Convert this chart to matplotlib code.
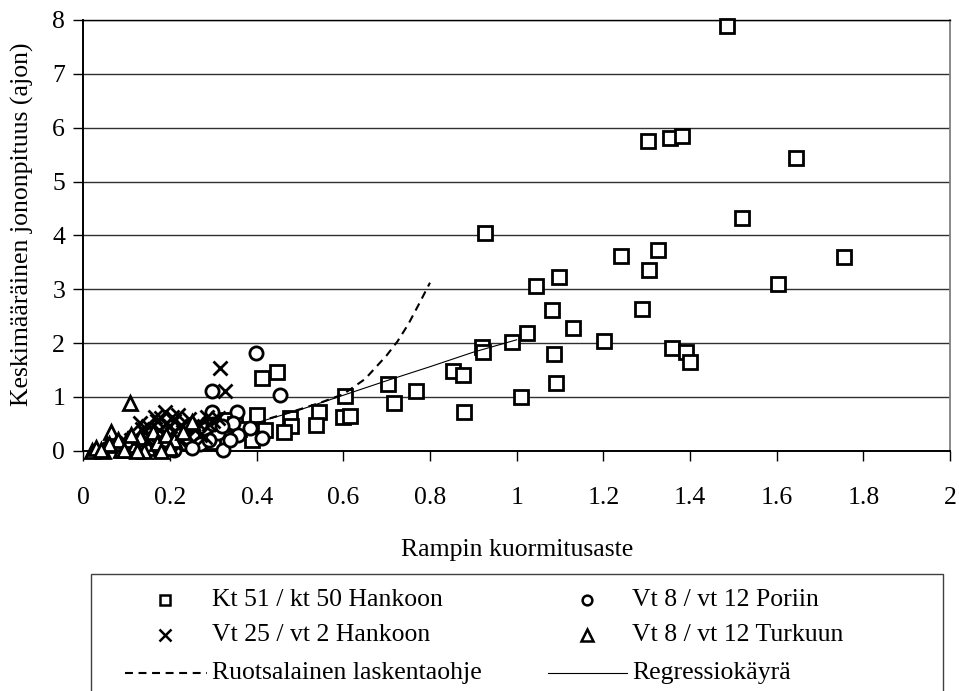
import matplotlib
matplotlib.use('Agg')
import matplotlib.pyplot as plt
from matplotlib.lines import Line2D
from matplotlib.patches import Rectangle

plt.rcParams['font.family'] = ['Liberation Serif', 'DejaVu Serif']

# Kt 51 / kt 50 Hankoon (squares)
sq_x = [1.485, 1.302, 1.354, 1.382, 1.644, 1.519, 1.241, 1.327, 1.305, 1.756, 1.602,
        1.044, 1.098, 1.082, 1.290, 1.025, 1.129, 0.990, 1.202, 1.086, 1.359, 1.391,
        1.400, 1.090, 1.009, 0.927, 0.919, 0.923, 0.854, 0.876, 0.879, 0.702, 0.767,
        0.716, 0.604, 0.600, 0.615, 0.544, 0.537, 0.477, 0.479, 0.462, 0.412, 0.446,
        0.400, 0.396, 0.419, 0.390, 0.331, 0.300, 0.350, 0.360]
sq_y = [7.88, 5.76, 5.81, 5.84, 5.43, 4.32, 3.62, 3.73, 3.36, 3.59, 3.09,
        3.05, 3.23, 2.62, 2.63, 2.18, 2.27, 2.01, 2.04, 1.79, 1.90, 1.84,
        1.65, 1.25, 0.99, 4.05, 1.93, 1.84, 1.48, 1.41, 0.72, 1.24, 1.11,
        0.89, 1.02, 0.62, 0.645, 0.72, 0.48, 0.60, 0.46, 0.35, 1.35, 1.47,
        0.66, 0.26, 0.38, 0.20, 0.57, 0.17, 0.50, 0.40]

# Vt 8 / vt 12 Poriin (circles)
ci_x = [0.398, 0.454, 0.296, 0.296, 0.354, 0.346, 0.385, 0.357, 0.311, 0.412, 0.323,
        0.339, 0.258, 0.215, 0.177, 0.210, 0.180, 0.200, 0.230, 0.240, 0.260, 0.270,
        0.280, 0.300, 0.220, 0.190, 0.250, 0.320, 0.160, 0.290]
ci_y = [1.81, 1.03, 1.10, 0.72, 0.72, 0.51, 0.42, 0.29, 0.33, 0.23, 0.01,
        0.20, 0.17, 0.10, 0.04, 0.01, 0.05, 0.12, 0.15, 0.25, 0.30, 0.12,
        0.40, 0.50, 0.30, 0.20, 0.05, 0.45, 0.10, 0.20]

# Vt 25 / vt 2 Hankoon (crosses)
xx_x = [0.315, 0.327, 0.100, 0.120, 0.130, 0.140, 0.150, 0.165, 0.170, 0.180, 0.188,
        0.190, 0.200, 0.210, 0.218, 0.230, 0.240, 0.250, 0.260, 0.270, 0.285, 0.290,
        0.300, 0.310, 0.110, 0.150, 0.200, 0.120, 0.170, 0.220, 0.280, 0.090, 0.135,
        0.155, 0.175, 0.195, 0.205, 0.225, 0.245, 0.265]
xx_y = [1.54, 1.10, 0.15, 0.25, 0.51, 0.35, 0.45, 0.63, 0.55, 0.60, 0.72,
        0.50, 0.45, 0.55, 0.66, 0.35, 0.30, 0.45, 0.40, 0.30, 0.63, 0.50,
        0.55, 0.60, 0.20, 0.20, 0.15, 0.08, 0.10, 0.20, 0.25, 0.05, 0.40,
        0.30, 0.38, 0.28, 0.62, 0.48, 0.58, 0.52]

# Vt 8 / vt 12 Turkuun (triangles)
tr_x = [0.108, 0.019, 0.045, 0.065, 0.088, 0.149, 0.161, 0.250, 0.030, 0.055, 0.075,
        0.100, 0.120, 0.130, 0.170, 0.190, 0.210, 0.230, 0.140, 0.080, 0.110, 0.060,
        0.200, 0.040, 0.095, 0.125, 0.180]
tr_y = [0.88, 0.00, 0.00, 0.35, 0.01, 0.05, 0.35, 0.54, 0.05, 0.10, 0.15,
        0.20, 0.10, 0.25, 0.15, 0.30, 0.20, 0.35, 0.00, 0.20, 0.30, 0.12,
        0.05, 0.02, 0.02, 0.00, 0.00]

# Ruotsalainen laskentaohje (dotted curve)
ruot_x = [0.43, 0.50, 0.55, 0.60, 0.65, 0.675, 0.70, 0.725, 0.75, 0.775, 0.80]
ruot_y = [0.60, 0.77, 0.90, 1.05, 1.33, 1.55, 1.77, 2.03, 2.35, 2.73, 3.12]

# Regressiokayra (solid curve)
regr_x = [0.40, 0.50, 0.60, 0.70, 0.80, 0.90, 1.00]
regr_y = [0.52, 0.76, 1.03, 1.30, 1.56, 1.83, 2.06]

xticks = [0, 0.2, 0.4, 0.6, 0.8, 1, 1.2, 1.4, 1.6, 1.8, 2]
xtick_labels = ['0', '0.2', '0.4', '0.6', '0.8', '1', '1.2', '1.4', '1.6', '1.8', '2']
yticks = [0, 1, 2, 3, 4, 5, 6, 7, 8]

labels = ['Kt 51 / kt 50 Hankoon', 'Vt 8 / vt 12 Poriin',
          'Vt 25 / vt 2 Hankoon', 'Vt 8 / vt 12 Turkuun',
          'Ruotsalainen laskentaohje', 'Regressiokäyrä']

W, H = 959, 691
fig = plt.figure(figsize=(W / 100, H / 100), dpi=100)
ax = fig.add_axes([83.3 / W, 1 - 450.7 / H, 866.7 / W, 430.7 / H])

fs = 18.5
dots = (0, (3.8, 2.7))
mk = dict(linestyle='none', markerfacecolor='white', markeredgecolor='black',
          markeredgewidth=2.0, clip_on=False)

ax.plot(sq_x, sq_y, marker='s', markersize=9.5, zorder=3, **mk)
ax.plot(ci_x, ci_y, marker='o', markersize=9.5, zorder=4, **mk)
ax.plot(xx_x, xx_y, marker='x', markersize=10, zorder=5, **mk)
ax.plot(tr_x, tr_y, marker='^', markersize=10, zorder=6, **mk)
ax.plot(ruot_x, ruot_y, color='black', lw=1.5, linestyle=dots, zorder=7)
ax.plot(regr_x, regr_y, color='black', lw=0.8, zorder=7)

ax.set_xlim(0, 2)
ax.set_ylim(0, 8)
ax.set_xticks(xticks)
ax.set_xticklabels(xtick_labels)
ax.set_yticks(yticks)
for y in yticks[1:]:
    ax.axhline(y, color='#303030', lw=1.0, zorder=1)

ax.tick_params(axis='both', direction='out', length=7, width=1.0, labelsize=fs)
ax.tick_params(axis='x', pad=19)
ax.tick_params(axis='y', pad=6)

for s in ['left', 'bottom']:
    ax.spines[s].set_linewidth(1.4)
    ax.spines[s].set_color('black')
ax.spines['top'].set_color('black')
ax.spines['top'].set_linewidth(1.0)
ax.spines['right'].set_color('#808080')
ax.spines['right'].set_linewidth(1.3)

ax.set_xlabel('Rampin kuormitusaste', fontsize=fs, labelpad=22)
ax.set_ylabel('Keskimääräinen jononpituus (ajon)', fontsize=fs)
ax.yaxis.set_label_coords(-0.057, 0.526)

# legend box drawn by hand to follow the original layout
def fx(px):
    return px / W

def fy(py):
    return 1 - py / H

fig.add_artist(Rectangle((fx(91), fy(700)), fx(943) - fx(91), fy(574) - fy(700),
                         transform=fig.transFigure, facecolor='none',
                         edgecolor='#404040', lw=1.0))

rows = [600, 635, 673]
col_mark = [165, 587]
col_text = [212, 632]
lm = dict(linestyle='none', markerfacecolor='white', markeredgecolor='black',
          markeredgewidth=1.8, transform=fig.transFigure)
fig.add_artist(Line2D([fx(col_mark[0])], [fy(rows[0])], marker='s', markersize=7, **lm))
fig.add_artist(Line2D([fx(col_mark[1])], [fy(rows[0])], marker='o', markersize=7, **lm))
fig.add_artist(Line2D([fx(col_mark[0])], [fy(rows[1])], marker='x', markersize=8, **lm))
fig.add_artist(Line2D([fx(col_mark[1])], [fy(rows[1])], marker='^', markersize=8, **lm))
fig.add_artist(Line2D([fx(125), fx(207)], [fy(rows[2]), fy(rows[2])], color='black',
                      lw=1.5, linestyle=dots, transform=fig.transFigure))
fig.add_artist(Line2D([fx(548), fx(627)], [fy(rows[2]), fy(rows[2])], color='black',
                      lw=0.8, transform=fig.transFigure))

for i, lab in enumerate(labels):
    r, c = divmod(i, 2)
    fig.text(fx(col_text[c]), fy(rows[r]), lab, fontsize=fs, ha='left', va='center')

fig.savefig('out.png', dpi=100)
